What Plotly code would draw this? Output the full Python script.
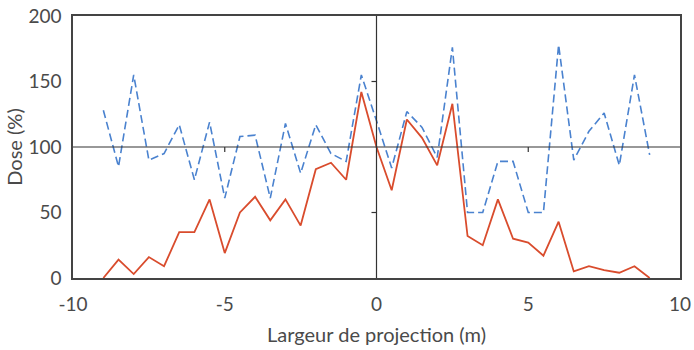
import plotly.graph_objects as go

positions = [-9.0, -8.5, -8.0, -7.5, -7.0, -6.5, -6.0, -5.5, -5.0, -4.5, -4.0, -3.5, -3.0,
             -2.5, -2.0, -1.5, -1.0, -0.5, 0.0, 0.5, 1.0, 1.5, 2.0, 2.5, 3.0, 3.5, 4.0,
             4.5, 5.0, 5.5, 6.0, 6.5, 7.0, 7.5, 8.0, 8.5, 9.0]

dose_red = [0, 14, 3, 16, 9, 35, 35, 60, 19, 50, 62, 44, 60,
            40, 83, 88, 75, 142, 100, 67, 121, 107, 86, 133, 32, 25, 60,
            30, 27, 17, 43, 5, 9, 6, 4, 9, 0]

dose_blue = [128, 85, 155, 90, 95, 117, 75, 119, 61, 108, 109, 61, 118,
             80, 117, 95, 89, 155, 120, 84, 127, 115, 92, 176, 50, 50, 89,
             89, 50, 50, 178, 90, 112, 126, 86, 155, 94]

x_ticks = [-10, -5, 0, 5, 10]
y_ticks = [0, 50, 100, 150, 200]
center_x_ticks = [-5, 5]
center_y_ticks = [50, 150]

font_family = "Lato"
text_color = "#4a4a4a"

fig = go.Figure()
fig.add_trace(go.Scatter(x=positions, y=dose_blue, mode="lines",
                         line=dict(color="#4a82cf", width=1.6, dash="8px,4px"),
                         showlegend=False))
fig.add_trace(go.Scatter(x=positions, y=dose_red, mode="lines",
                         line=dict(color="#d94c2d", width=1.8),
                         showlegend=False))

shapes = [
    dict(type="line", xref="x", yref="paper", x0=0, x1=0, y0=0, y1=1,
         line=dict(color="#333333", width=1.2)),
    dict(type="line", xref="paper", yref="y", x0=0, x1=1, y0=100, y1=100,
         line=dict(color="#333333", width=1.2)),
]
for tx in center_x_ticks:
    shapes.append(dict(type="line", xref="x", yref="y", ysizemode="pixel", yanchor=100,
                       x0=tx, x1=tx, y0=0, y1=-5, line=dict(color="#333333", width=1.2)))
for ty in center_y_ticks:
    shapes.append(dict(type="line", xref="x", yref="y", xsizemode="pixel", xanchor=0,
                       x0=0, x1=-5, y0=ty, y1=ty, line=dict(color="#333333", width=1.2)))

fig.update_layout(
    width=694, height=350,
    margin=dict(l=73, r=14, t=16, b=72, autoexpand=False),
    plot_bgcolor="white", paper_bgcolor="white",
    font=dict(family=font_family, size=19, color=text_color),
    shapes=shapes,
    xaxis=dict(range=[-10, 10], tickvals=x_ticks, ticktext=[str(v) for v in x_ticks],
               showgrid=False, zeroline=False, showline=True, linecolor="#444444",
               linewidth=1.5, mirror=True, ticks="", ticklen=0, automargin=False,
               ticklabelstandoff=8, tickfont=dict(size=19),
               title=dict(text="Largeur de projection (m)", standoff=14,
                          font=dict(size=20, color=text_color))),
    yaxis=dict(range=[0, 200], tickvals=y_ticks, ticktext=[str(v) for v in y_ticks],
               showgrid=False, zeroline=False, showline=True, linecolor="#444444",
               linewidth=1.5, mirror=True, ticks="", ticklen=0, automargin=False,
               ticklabelstandoff=6, tickfont=dict(size=19),
               title=dict(text="Dose (%)", standoff=0,
                          font=dict(size=20, color=text_color))),
)

fig.write_html("out.html", config={"displayModeBar": False},
               post_script="document.body.style.margin='0';document.body.style.padding='0';")
